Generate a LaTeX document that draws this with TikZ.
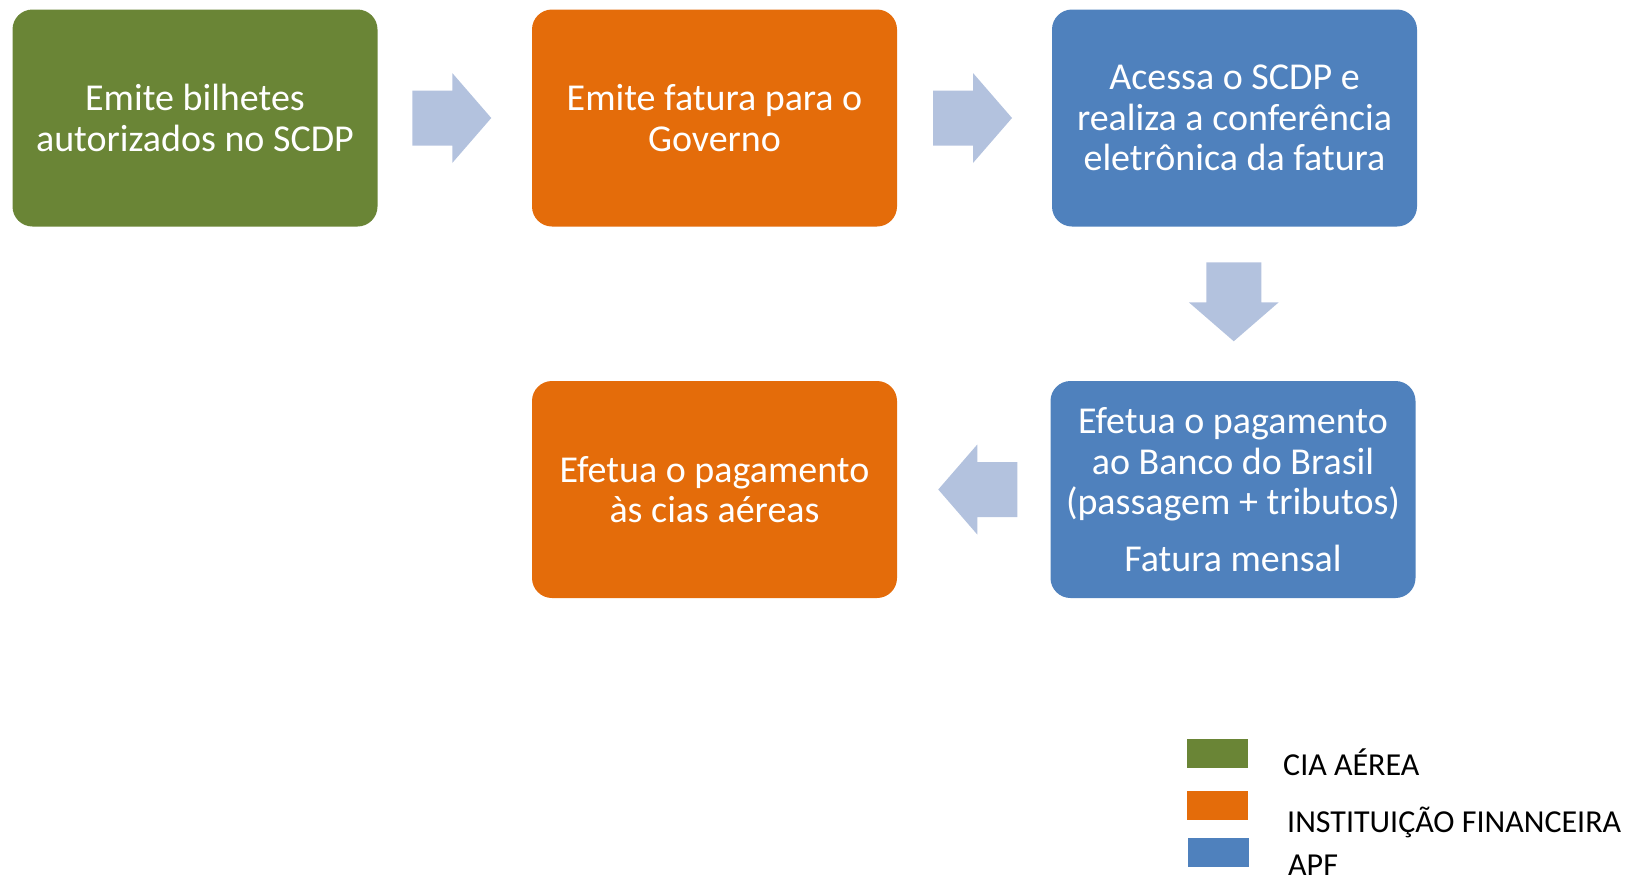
\documentclass[tikz,border=0pt]{standalone}
\usepackage{fontspec}
\setmainfont{Carlito}
\usetikzlibrary{calc}
\definecolor{cgreen}{HTML}{6A8536}
\definecolor{corange}{HTML}{E46C0A}
\definecolor{cblue}{HTML}{4F81BD}
\definecolor{carrow}{HTML}{B3C2DE}
\tikzset{
  stepbox/.style={rounded corners=20pt, minimum width=365pt, minimum height=217pt,
    inner sep=0pt, text=white, align=center, font=\fontsize{38}{40.5}\selectfont},
  legbox/.style={minimum width=61pt, minimum height=29pt, inner sep=0pt},
  legtext/.style={anchor=base west, inner sep=0pt, font=\fontsize{32}{36}\selectfont},
}
\newcommand{\blockarrow}[2]{%
  \begin{scope}[shift={(#1)}, rotate=#2]
    \fill[carrow] (-39.5,-27.5) -- (0.5,-27.5) -- (0.5,-45) -- (39.5,0) -- (0.5,45) -- (0.5,27.5) -- (-39.5,27.5) -- cycle;
  \end{scope}}
\begin{document}
\begin{tikzpicture}[x=1pt,y=1pt]
\useasboundingbox (0,0) rectangle (1633,-881);
\node[stepbox, fill=cgreen] (b1) at (195,-118) {Emite bilhetes\\autorizados no SCDP};
\node[stepbox, fill=corange] (b2) at (714.5,-118) {Emite fatura para o\\Governo};
\node[stepbox, fill=cblue] (b3) at (1234.5,-118) {Acessa o SCDP e\\realiza a conferência\\eletrônica da fatura};
\node[stepbox, fill=cblue] (b5) at (1233,-489.5) {Efetua o pagamento\\ao Banco do Brasil\\(passagem + tributos)\\[16pt]Fatura mensal};
\node[stepbox, fill=corange] (b4) at (714.5,-489.5) {Efetua o pagamento\\às cias aéreas};
\coordinate (a1) at ($(b1.east)!0.5!(b2.west)+(-3,0)$);
\coordinate (a2) at ($(b2.east)!0.5!(b3.west)+(-2,0)$);
\coordinate (a3) at ($(b3.south)!0.5!(b5.north)+(0,2)$);
\coordinate (a4) at ($(b5.west)!0.5!(b4.east)+(4,0)$);
\blockarrow{a1}{0}
\blockarrow{a2}{0}
\blockarrow{a3}{-90}
\blockarrow{a4}{180}
\node[legbox, fill=cgreen] (l1) at (1217.5,-753.5) {};
\node[legbox, fill=corange] (l2) at (1217.5,-805.5) {};
\node[legbox, fill=cblue] (l3) at (1218.5,-852.5) {};
\node[legtext] (t1) at (1283,-775) {CIA AÉREA};
\node[legtext] (t2) at (1287,-832) {INSTITUIÇÃO FINANCEIRA};
\node[legtext] (t3) at (1288,-875) {APF};
\end{tikzpicture}
\end{document}
